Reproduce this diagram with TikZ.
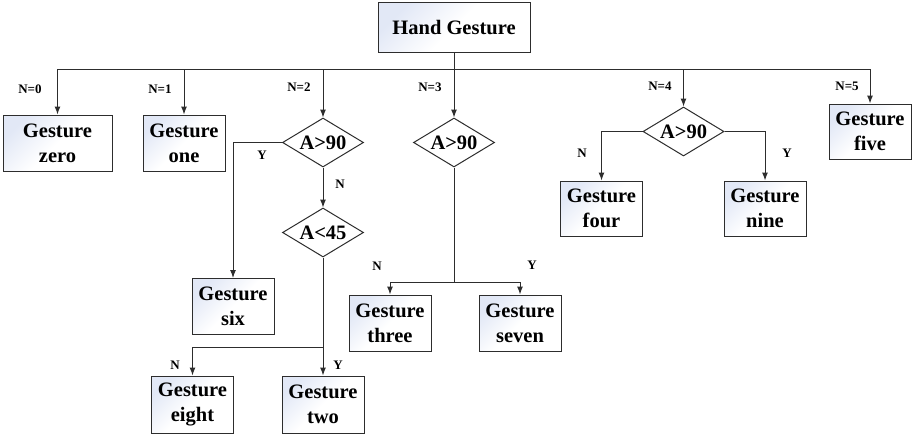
\documentclass[tikz,border=0pt]{standalone}
\usepackage{fontspec}
\setmainfont{Liberation Serif}
\usetikzlibrary{shapes.geometric,arrows.meta}
\definecolor{edge}{RGB}{45,45,45}
\definecolor{shadeblue}{RGB}{226,232,246}
\tikzset{
  gbox/.style={draw=edge, line width=1pt,
    left color=shadeblue, right color=white, middle color=white, shading angle=45,
    minimum width=82pt, minimum height=56pt, inner sep=0pt, align=center,
    font=\bfseries\fontsize{20.5}{25}\selectfont},
  dbox/.style={diamond, draw=edge, line width=1pt, fill=white, aspect=1.65,
    minimum width=81pt, minimum height=49pt, inner sep=0pt,
    font=\bfseries\fontsize{20.5}{25}\selectfont},
  lab/.style={font=\bfseries\fontsize{13}{15}\selectfont, inner sep=0pt},
  arr/.style={draw=edge, line width=1pt, -{Latex[length=8pt,width=6pt]}},
  ln/.style={draw=edge, line width=1pt},
}
\begin{document}
\begin{tikzpicture}[x=1pt,y=-1pt]
\useasboundingbox (0,0) rectangle (912,436);
% nodes
\node[gbox, minimum width=152pt, minimum height=50pt] (hand) at (454,28) {Hand Gesture};
\node[gbox, minimum width=109pt] (zero) at (57.5,143) {Gesture\\zero};
\node[gbox] (one) at (184,143) {Gesture\\one};
\node[dbox] (d2) at (323,142.5) {A>90};
\node[dbox] (d3) at (323,232.5) {A<45};
\node[gbox] (six) at (233,306.5) {Gesture\\six};
\node[gbox, minimum height=57pt] (eight) at (192.5,404.5) {Gesture\\eight};
\node[gbox, minimum height=57pt] (two) at (323,404.5) {Gesture\\two};
\node[dbox] (d4) at (454,142.5) {A>90};
\node[gbox] (three) at (390,323) {Gesture\\three};
\node[gbox] (seven) at (520,323) {Gesture\\seven};
\node[dbox] (d5) at (683.5,131.5) {A>90};
\node[gbox, minimum height=55pt] (four) at (601.5,208.5) {Gesture\\four};
\node[gbox, minimum height=55pt] (nine) at (765,208.5) {Gesture\\nine};
\node[gbox, minimum width=82pt, minimum height=55pt] (five) at (870,131.5) {Gesture\\five};
% junctions
\coordinate (j2) at (323,347);
\coordinate (j3) at (454,282);
% connectors from root
\draw[arr] (hand.south) -- ++(0,16) -| (zero.north);
\draw[arr] (hand.south) -- ++(0,16) -| (one.north);
\draw[arr] (hand.south) -- ++(0,16) -| (d2.north);
\draw[arr] (hand.south) -- (d4.north);
\draw[arr] (hand.south) -- ++(0,16) -| (d5.north);
\draw[arr] (hand.south) -- ++(0,16) -| (five.north);
% N=2 branch
\draw[arr] (d2.west) -| (six.north);
\draw[arr] (d2.south) -- (d3.north);
\draw[ln] (d3.south) -- (j2);
\draw[arr] (j2) -| (eight.north);
\draw[arr] (j2) -- (two.north);
% N=3 branch
\draw[ln] (d4.south) -- (j3);
\draw[arr] (j3) -| (three.north);
\draw[arr] (j3) -| (seven.north);
% N=4 branch
\draw[arr] (d5.west) -| (four.north);
\draw[arr] (d5.east) -| (nine.north);
% labels
\node[lab] (l0) at (30,89) {N=0};
\node[lab] (l1) at (160,89) {N=1};
\node[lab] (l2) at (299,87) {N=2};
\node[lab] (l3) at (430,87) {N=3};
\node[lab] (l4) at (660,86) {N=4};
\node[lab] (l5) at (847,86) {N=5};
\node[lab] (y2) at (262,155) {Y};
\node[lab] (n2) at (340,184) {N};
\node[lab] (n8) at (175,365) {N};
\node[lab] (y8) at (338,365) {Y};
\node[lab] (n3) at (377,266) {N};
\node[lab] (y3) at (532,265) {Y};
\node[lab] (n4) at (582,153) {N};
\node[lab] (y4) at (787,153) {Y};
\end{tikzpicture}
\end{document}
